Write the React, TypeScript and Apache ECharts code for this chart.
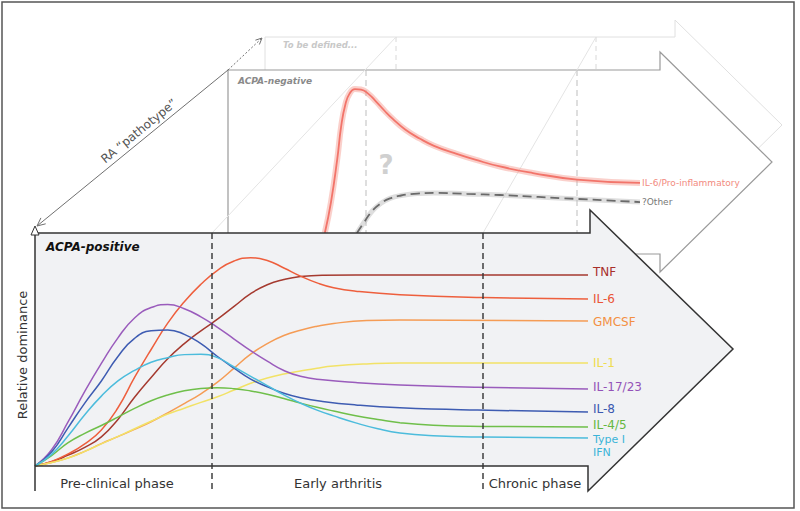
import React, { useEffect, useRef } from "react";
import * as echarts from "echarts";

// ---------- data (x: 0..100 along time, y: 0..100 relative dominance) ----------
const cytokineNames = ["TNF", "IL-6", "GMCSF", "IL-1", "IL-17/23", "IL-8", "IL-4/5", "Type I\nIFN"];

const tnf = [[0, 0], [3, 1.8], [6, 4.7], [9, 8], [12, 12.5], [15, 20], [18, 29.5], [21, 38], [24, 46], [27, 52.5], [30, 58], [33, 63], [36, 68.5], [39, 74], [42, 77.8], [45, 80], [48, 81.3], [52, 81.9], [58, 82], [70, 82], [100, 82]];
const il6 = [[0, 0], [3, 2], [6, 5.2], [9, 9.5], [12, 15.5], [15, 25], [18, 38], [21, 50], [24, 61.3], [27, 70.5], [30, 78], [33, 84], [36, 88], [39, 89.4], [42, 88.2], [45, 85], [48, 81.5], [51, 78.6], [54, 76.5], [58, 75], [66, 73.5], [81, 72.3], [100, 71.7]];
const gmcsf = [[0, 0], [3, 1.5], [6, 3.5], [9, 6.3], [12, 9.6], [15, 12.6], [18, 15.7], [21, 19], [24, 22.8], [27, 26.8], [30, 31], [33, 36], [36, 42], [39, 48], [42, 52.5], [45, 56], [48, 58.3], [51, 60], [54, 61.2], [60, 62.4], [66, 62.7], [100, 62.2]];
const il1 = [[0, 0], [3, 1.5], [6, 3.4], [9, 6.3], [12, 9.5], [15, 12.7], [18, 16], [21, 19.2], [24, 22.3], [27, 24.8], [30, 27.3], [33, 29.7], [36, 32.6], [39, 35.5], [42, 37.8], [45, 39.5], [48, 40.8], [51, 42], [54, 42.9], [60, 43.8], [66, 44.2], [100, 44.2]];
const il1723 = [[0, 0], [3, 7], [6, 19], [9, 32], [12, 44], [15, 55], [18, 63.5], [21, 68], [24, 69.3], [27, 67.5], [30, 64], [33, 59.5], [36, 54.5], [39, 49.5], [42, 45], [45, 41], [48, 38.5], [52, 37], [58, 35.8], [66, 34.8], [80, 33.8], [100, 33]];
const il8 = [[0, 0], [3, 6], [6, 16.5], [9, 27], [12, 36.5], [15, 47], [18, 54.8], [21, 58], [24, 58.4], [27, 56.5], [30, 52.5], [33, 47], [36, 42], [39, 37.3], [42, 34], [45, 31.2], [48, 29.3], [52, 27.7], [58, 26.2], [66, 25], [80, 24], [100, 23.2]];
const il45 = [[0, 0], [3, 4.5], [6, 10], [9, 14], [12, 17.4], [15, 21], [18, 24.7], [21, 28], [24, 30.5], [27, 32.3], [30, 33.3], [33, 33.6], [36, 33.2], [39, 32.2], [42, 30.8], [45, 29], [48, 27], [51, 25.2], [54, 23.6], [58, 21.6], [62, 20], [66, 18.6], [72, 17.5], [81, 17], [100, 16.7]];
const ifn = [[0, 0], [3, 5], [6, 13], [9, 22], [12, 30], [15, 36.5], [18, 41], [21, 44.5], [24, 46.5], [27, 47.8], [30, 48], [33, 46.5], [36, 42.5], [39, 38.5], [42, 34.5], [45, 30.5], [48, 27], [51, 24], [54, 21.5], [58, 18.5], [62, 16], [66, 14.2], [72, 13], [81, 12.4], [100, 12]];

const negNames = ["IL-6/Pro-inflammatory", "?Other"];
const negProInflammatory = [[23.5, 0], [25, 19], [26.5, 45], [27.5, 66], [28.5, 79], [29.5, 85.5], [30.8, 88.3], [32.3, 88], [34, 85.5], [36, 80.5], [38, 75], [40, 70], [43, 63.5], [46.5, 58], [50, 53.5], [55, 49], [60, 45], [66, 40.8], [74, 36.8], [84.7, 32.8], [100, 30.7]];
const negOther = [[31.3, 0], [33, 6.5], [35, 13.5], [37, 18], [39.3, 21.2], [42, 23], [46, 24.2], [50, 24.6], [58, 24], [66, 23.3], [84.7, 20.9], [100, 19]];

const phaseLabels = ["Pre-clinical phase", "Early arthritis", "Chronic phase"];
const panelLabels = ["ACPA-positive", "ACPA-negative", "To be defined..."];

// ---------- styles ----------
const lowerData = [tnf, il6, gmcsf, il1, il1723, il8, il45, ifn];
const lowerColors = ["#a53a2f", "#ee5f3d", "#f59c55", "#f2e266", "#9a5cbc", "#3e5cb2", "#6fbf4a", "#4cbcdc"];
const lowerLabelColors = ["#a8302a", "#ea5436", "#f39043", "#efdc4e", "#9452b8", "#3a58b0", "#66b842", "#3cb4d8"];
const lowerLabelDy = [-3, 0, 1, 0, -2, -3, -2, 8];

const FONT = "DejaVu Sans";

export default function App() {
  const ref = useRef<HTMLDivElement>(null);
  useEffect(() => {
    if (!ref.current) return;
    const chart = echarts.init(ref.current, undefined, { renderer: "svg" });

    const series: any[] = [];
    // upper (ACPA-negative) panel curves
    series.push({
      type: "line", xAxisIndex: 1, yAxisIndex: 1, data: negProInflammatory, smooth: 0.5, symbol: "none", clip: false, z: 3,
      lineStyle: { width: 6, color: "rgba(245,150,140,0.45)" }, silent: true,
    });
    series.push({
      type: "line", name: negNames[0], xAxisIndex: 1, yAxisIndex: 1, data: negProInflammatory, smooth: 0.5, symbol: "none", clip: false, z: 3,
      lineStyle: { width: 1.8, color: "#f2746a" },
      endLabel: { show: true, formatter: negNames[0], color: "#f28a80", fontSize: 9, fontFamily: FONT, distance: 2 },
    });
    series.push({
      type: "line", xAxisIndex: 1, yAxisIndex: 1, data: negOther, smooth: 0.5, symbol: "none", clip: false, z: 3,
      lineStyle: { width: 5, color: "rgba(190,190,190,0.5)" }, silent: true,
    });
    series.push({
      type: "line", name: negNames[1], xAxisIndex: 1, yAxisIndex: 1, data: negOther, smooth: 0.5, symbol: "none", clip: false, z: 3,
      lineStyle: { width: 1.8, color: "#6a6a6a", type: [9, 5] },
      endLabel: { show: true, formatter: negNames[1], color: "#777", fontSize: 9, fontFamily: FONT, distance: 2 },
    });
    // lower (ACPA-positive) panel curves
    lowerData.forEach((d, i) => {
      const isIfn = i === lowerData.length - 1;
      series.push({
        type: "line", name: cytokineNames[i], xAxisIndex: 0, yAxisIndex: 0, data: d, smooth: 0.5, symbol: "none", z: 10,
        lineStyle: { width: 1.5, color: lowerColors[i] },
        endLabel: {
          show: true, formatter: cytokineNames[i], color: lowerLabelColors[i], fontSize: isIfn ? 11 : 12, fontFamily: FONT,
          distance: 5, offset: [0, lowerLabelDy[i]], lineHeight: isIfn ? 12.5 : 13,
        },
      });
    });

    const g: any[] = [];
    // outer frame
    g.push({ type: "rect", z: 0, shape: { x: 2, y: 2, width: 792, height: 506 }, style: { fill: "#fff", stroke: "#555", lineWidth: 1.5 } });
    // faint "to be defined" arrow
    g.push({ type: "polygon", z: 1, shape: { points: [[265, 213], [265, 37], [675, 37], [675, 20], [782, 125], [675, 230], [675, 213]] }, style: { fill: "#fff", stroke: "#e0e0e0", lineWidth: 1 } });
    g.push({ type: "line", z: 1, shape: { x1: 396, y1: 37, x2: 396, y2: 70 }, style: { stroke: "#d8d8d8", lineWidth: 1, lineDash: [5, 4] } });
    g.push({ type: "line", z: 1, shape: { x1: 596, y1: 37, x2: 596, y2: 70 }, style: { stroke: "#d8d8d8", lineWidth: 1, lineDash: [5, 4] } });
    g.push({ type: "text", z: 1, x: 283, y: 45, style: { text: panelLabels[2], fill: "#c8c8c8", font: `italic bold 8.5px ${FONT}`, verticalAlign: "middle" } });
    // ACPA-negative arrow
    g.push({ type: "polygon", z: 2, shape: { points: [[228, 254], [228, 70], [660, 70], [660, 52], [772, 162], [660, 272], [660, 254]] }, style: { fill: "#fff", stroke: "#9a9a9a", lineWidth: 1.2 } });
    // perspective lines
    g.push({ type: "line", z: 2, shape: { x1: 212, y1: 233, x2: 396, y2: 37 }, style: { stroke: "#e4e4e4", lineWidth: 1 } });
    g.push({ type: "line", z: 2, shape: { x1: 483, y1: 233, x2: 596, y2: 37 }, style: { stroke: "#e4e4e4", lineWidth: 1 } });
    g.push({ type: "line", z: 2, shape: { x1: 366, y1: 70, x2: 366, y2: 233 }, style: { stroke: "#bdbdbd", lineWidth: 1, lineDash: [6, 4] } });
    g.push({ type: "line", z: 2, shape: { x1: 577, y1: 70, x2: 577, y2: 233 }, style: { stroke: "#bdbdbd", lineWidth: 1, lineDash: [6, 4] } });
    g.push({ type: "text", z: 2, x: 238, y: 81, style: { text: panelLabels[1], fill: "#8a8a8a", font: `italic bold 9px ${FONT}`, verticalAlign: "middle" } });
    g.push({ type: "text", z: 2, x: 386, y: 165, style: { text: "?", fill: "#d0d0d0", font: `bold 26px ${FONT}`, align: "center", verticalAlign: "middle" } });
    // RA pathotype diagonal arrow
    g.push({ type: "line", z: 2, shape: { x1: 37, y1: 226, x2: 228, y2: 70 }, style: { stroke: "#707070", lineWidth: 1 } });
    g.push({ type: "polyline", z: 2, shape: { points: [[45.7, 223.8], [37, 226], [40.9, 217.9]] }, style: { stroke: "#707070", lineWidth: 1, fill: "none" } });
    g.push({ type: "line", z: 2, shape: { x1: 228, y1: 70, x2: 262, y2: 38 }, style: { stroke: "#707070", lineWidth: 1, lineDash: [2, 2] } });
    g.push({ type: "polyline", z: 2, shape: { points: [[255.4, 40.2], [262, 38], [259.4, 44.5]] }, style: { stroke: "#707070", lineWidth: 1, fill: "none" } });
    g.push({ type: "text", z: 2, x: 139, y: 131, rotation: 0.684, style: { text: "RA \u201cpathotype\u201d", fill: "#555", font: `12px ${FONT}`, align: "center", verticalAlign: "middle" } });
    // ACPA-positive arrow (fill + outline)
    g.push({ type: "polygon", z: 5, shape: { points: [[35, 233], [590, 233], [590, 210], [733, 349], [588, 491], [588, 466], [35, 466]] }, style: { fill: "#f1f2f4", stroke: "none" } });
    g.push({ type: "rect", z: 5, shape: { x: 35, y: 466, width: 553, height: 25 }, style: { fill: "#fff" } });
    g.push({ type: "polyline", z: 12, shape: { points: [[35, 233], [590, 233], [590, 210], [733, 349], [588, 491], [588, 466], [35, 466]] }, style: { stroke: "#333", lineWidth: 1.5, fill: "none" } });
    // y axis with open arrow head
    g.push({ type: "line", z: 12, shape: { x1: 35, y1: 491, x2: 35, y2: 234 }, style: { stroke: "#333", lineWidth: 1.5 } });
    g.push({ type: "polygon", z: 13, shape: { points: [[31, 235], [35, 226], [39, 235]] }, style: { fill: "#fff", stroke: "#333", lineWidth: 1 } });
    // phase dividers
    g.push({ type: "line", z: 12, shape: { x1: 212, y1: 233, x2: 212, y2: 491 }, style: { stroke: "#333", lineWidth: 1.4, lineDash: [6, 4] } });
    g.push({ type: "line", z: 12, shape: { x1: 483, y1: 233, x2: 483, y2: 491 }, style: { stroke: "#333", lineWidth: 1.4, lineDash: [6, 4] } });
    // labels
    g.push({ type: "text", z: 12, x: 46, y: 247, style: { text: panelLabels[0], fill: "#111", font: `italic bold 12px ${FONT}`, verticalAlign: "middle" } });
    g.push({ type: "text", z: 12, x: 117, y: 483, style: { text: phaseLabels[0], fill: "#333", font: `13px ${FONT}`, align: "center", verticalAlign: "middle" } });
    g.push({ type: "text", z: 12, x: 338, y: 483, style: { text: phaseLabels[1], fill: "#333", font: `13px ${FONT}`, align: "center", verticalAlign: "middle" } });
    g.push({ type: "text", z: 12, x: 535, y: 483, style: { text: phaseLabels[2], fill: "#333", font: `13px ${FONT}`, align: "center", verticalAlign: "middle" } });
    g.push({ type: "text", z: 12, x: 22, y: 355, rotation: Math.PI / 2, style: { text: "Relative dominance", fill: "#333", font: `13px ${FONT}`, align: "center", verticalAlign: "middle" } });

    chart.setOption({
      animation: false,
      backgroundColor: "#fff",
      grid: [
        { left: 35, top: 233, width: 553, height: 233 },
        { left: 228, top: 70, width: 412, height: 163 },
      ],
      xAxis: [
        { type: "value", gridIndex: 0, min: 0, max: 100, show: false },
        { type: "value", gridIndex: 1, min: 0, max: 100, show: false },
      ],
      yAxis: [
        { type: "value", gridIndex: 0, min: 0, max: 100, show: false },
        { type: "value", gridIndex: 1, min: 0, max: 100, show: false },
      ],
      graphic: { elements: g },
      series,
    });
    return () => chart.dispose();
  }, []);
  return <div ref={ref} style={{ position: "fixed", left: 0, top: 0, width: 800, height: 511 }} />;
}
